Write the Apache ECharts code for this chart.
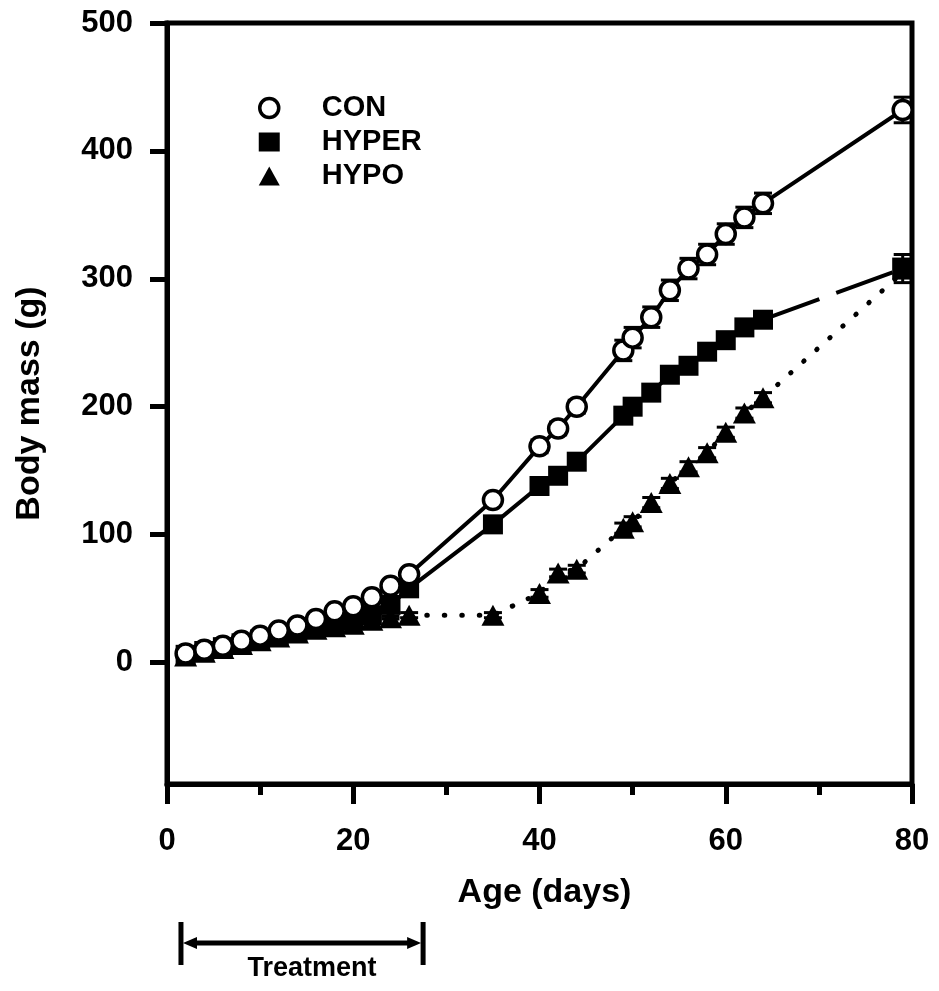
<!DOCTYPE html>
<html>
<head>
<meta charset="utf-8">
<script src="https://cdn.jsdelivr.net/npm/echarts@6/dist/echarts.min.js"></script>
<style>
html,body{margin:0;padding:0;background:#fff;}
#chart{width:939px;height:991px;}
</style>
</head>
<body>
<div id="chart"></div>
<script>
// ---- data ----
const days = [2,4,6,8,10,12,14,16,18,20,22,24,26,35,40,42,44,49,50,52,54,56,58,60,62,64,79];
const conMass   = [7,10,13,17,21,25,29,34,40,44,51,60,69,127,169,183,200,244,254,270,291,308,319,335,348,359,432];
const conSE     = [1,1,1,1,1,1,1,1,2,2,2,2,2,4,5,5,5,8,8,8,8,8,8,8,8,8,10];
const hyperMass = [6,9,12,15,18,21,24,27,30,33,37,45,58,108,138,146,157,193,200,211,225,232,243,252,262,268,308];
const hyperSE   = [1,1,1,1,1,1,1,1,1,1,2,2,2,3,3,3,3,4,4,4,4,4,4,4,4,5,11];
const hypoMass  = [5,8,11,14,17,20,23,26,28,30,33,35,37,37,54,70,73,105,110,125,140,153,164,180,195,207,305];
const hypoSE    = [1,1,1,1,1,1,1,1,1,1,1,1,2,2,3,3,3,4,4,4,4,4,4,4,4,4,0];
const yTickLabels = [0,100,200,300,400,500];
const xTickLabels = [0,20,40,60,80];
const treatment = [1.5, 27.5];
const tailFrom = 25; // index where the HYPER line turns dashed

const FONT = '"Liberation Sans", Arial, Helvetica, sans-serif';
const pairs = (xs, ys) => xs.map((x,i)=>[x, ys[i]]);
const triples = (xs, ys, es) => xs.map((x,i)=>[x, ys[i], es[i]]);

function errRender(params, api){
  const x = api.value(0), y = api.value(1), e = api.value(2);
  if (!e) return null;
  const hi = api.coord([x, y + e]), lo = api.coord([x, y - e]);
  const w = 9;
  const st = {stroke:'#000', lineWidth:3};
  return {type:'group', children:[
    {type:'line', shape:{x1:hi[0], y1:hi[1], x2:lo[0], y2:lo[1]}, style:st},
    {type:'line', shape:{x1:hi[0]-w, y1:hi[1], x2:hi[0]+w, y2:hi[1]}, style:st},
    {type:'line', shape:{x1:lo[0]-w, y1:lo[1], x2:lo[0]+w, y2:lo[1]}, style:st}
  ]};
}

const chart = echarts.init(document.getElementById('chart'), null, {renderer:'canvas'});

const hyperMain = pairs(days.slice(0, tailFrom+1), hyperMass.slice(0, tailFrom+1));
const hyperTail = pairs(days.slice(tailFrom), hyperMass.slice(tailFrom)).map((p,i)=> i===0 ? {value:p, symbol:'none'} : {value:p});
const hypoData = pairs(days, hypoMass).map((p,i)=> i===days.length-1 ? {value:p, symbol:'none'} : {value:p});

chart.setOption({
  animation:false,
  backgroundColor:'#fff',
  textStyle:{fontFamily:FONT},
  grid:{left:167, right:27, top:23, bottom:207, show:true, borderColor:'#000', borderWidth:5, backgroundColor:'transparent'},
  legend:{
    orient:'vertical', left:253, top:88, itemWidth:21, itemHeight:19, itemGap:4,
    selectedMode:false,
    textStyle:{fontFamily:FONT, fontWeight:'bold', fontSize:29, color:'#000', lineHeight:30, padding:[0,0,0,37]},
    data:[
      {name:'CON', icon:'circle', itemStyle:{color:'#fff', borderColor:'#000', borderWidth:3.5}},
      {name:'HYPER', icon:'rect', itemStyle:{color:'#000', borderWidth:0}},
      {name:'HYPO', icon:'triangle', itemStyle:{color:'#000', borderWidth:0}}
    ]
  },
  xAxis:{
    type:'value', min:0, max:80, interval:20,
    name:'Age (days)', nameLocation:'middle', nameGap:92,
    nameTextStyle:{fontFamily:FONT, fontWeight:'bold', fontSize:34, color:'#000', padding:[0,0,0,10]},
    axisLine:{show:true, onZero:false, lineStyle:{color:'#000', width:5}},
    axisTick:{show:true, inside:false, length:20, lineStyle:{color:'#000', width:5}},
    minorTick:{show:true, splitNumber:2, length:11, lineStyle:{color:'#000', width:5}},
    axisLabel:{fontFamily:FONT, fontWeight:'bold', fontSize:31, color:'#000', margin:42,
      customValues:xTickLabels},
    splitLine:{show:false}, minorSplitLine:{show:false}
  },
  yAxis:{
    type:'value', min:-95, max:500,
    name:'Body mass (g)', nameLocation:'middle', nameGap:120, nameRotate:90,
    nameTextStyle:{fontFamily:FONT, fontWeight:'bold', fontSize:34, color:'#000'},
    axisLine:{show:true, onZero:false, lineStyle:{color:'#000', width:5}},
    axisTick:{show:true, inside:false, length:17, lineStyle:{color:'#000', width:5}, customValues:yTickLabels},
    axisLabel:{fontFamily:FONT, fontWeight:'bold', fontSize:31, color:'#000', margin:34,
      customValues:yTickLabels},
    splitLine:{show:false}
  },
  series:[
    {type:'custom', name:'hypoErr', renderItem:errRender, data:triples(days, hypoMass, hypoSE), encode:{x:0,y:1}, z:1, silent:true},
    {type:'custom', name:'hyperErr', renderItem:errRender, data:triples(days, hyperMass, hyperSE), encode:{x:0,y:1}, z:1, silent:true},
    {type:'custom', name:'conErr', renderItem:errRender, data:triples(days, conMass, conSE), encode:{x:0,y:1}, z:1, silent:true},
    {
      type:'line', name:'HYPO', data:hypoData, z:3,
      symbol:'triangle', symbolSize:[23,21], showSymbol:true,
      lineStyle:{color:'#000', width:5, type:[0.5,17], cap:'round'},
      itemStyle:{color:'#000', borderWidth:0}
    },
    {
      type:'line', name:'HYPER-tail', data:hyperTail, z:4,
      symbol:'rect', symbolSize:[21,22],
      lineStyle:{color:'#000', width:4, type:[60,18]},
      itemStyle:{color:'#000', borderWidth:0}
    },
    {
      type:'line', name:'HYPER', data:hyperMain, z:4,
      symbol:'rect', symbolSize:[20,20], showSymbol:true,
      lineStyle:{color:'#000', width:4, type:'solid'},
      itemStyle:{color:'#000', borderWidth:0}
    },
    {
      type:'line', name:'CON', data:pairs(days, conMass), z:5,
      symbol:'circle', symbolSize:19, showSymbol:true,
      lineStyle:{color:'#000', width:4},
      itemStyle:{color:'#fff', borderColor:'#000', borderWidth:3.5}
    }
  ]
});

// Treatment bracket below the axis, positioned from the x scale
function drawTreatment(){
  const x1 = chart.convertToPixel({xAxisIndex:0}, treatment[0]);
  const x2 = chart.convertToPixel({xAxisIndex:0}, treatment[1]);
  const yMid = 943, yTop = 922, yBot = 965, ah = 12, aw = 6;
  chart.setOption({graphic:[
    {type:'line', shape:{x1:x1, y1:yTop, x2:x1, y2:yBot}, style:{stroke:'#000', lineWidth:5}},
    {type:'line', shape:{x1:x2, y1:yTop, x2:x2, y2:yBot}, style:{stroke:'#000', lineWidth:5}},
    {type:'line', shape:{x1:x1+ah, y1:yMid, x2:x2-ah, y2:yMid}, style:{stroke:'#000', lineWidth:5}},
    {type:'polygon', shape:{points:[[x1+2,yMid],[x1+ah+4,yMid-aw],[x1+ah+4,yMid+aw]]}, style:{fill:'#000'}},
    {type:'polygon', shape:{points:[[x2-2,yMid],[x2-ah-4,yMid-aw],[x2-ah-4,yMid+aw]]}, style:{fill:'#000'}},
    {type:'text', x:(x1+x2)/2 + 10, y:969, style:{text:'Treatment', fill:'#000', font:'bold 27px ' + FONT, align:'center', verticalAlign:'middle'}}
  ]});
}
drawTreatment();
</script>
</body>
</html>
